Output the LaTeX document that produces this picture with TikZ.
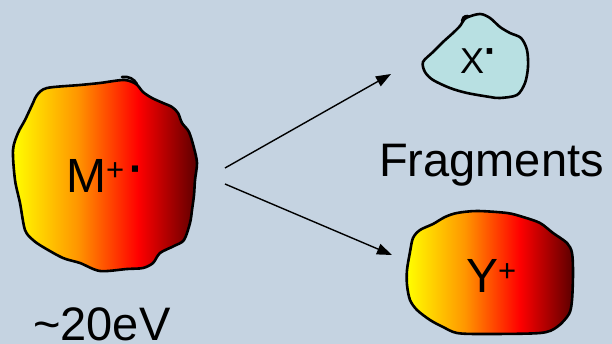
\documentclass[tikz,border=0pt]{standalone}
\usepackage{fontspec}
\setmainfont{Liberation Sans}
\usetikzlibrary{arrows.meta}

\definecolor{slide}{RGB}{197,211,225}
\definecolor{radical}{RGB}{184,224,226}
\definecolor{fireorange}{RGB}{255,150,0}
\definecolor{firedark}{RGB}{92,0,0}

% yellow -> orange -> red -> dark red, left to right across the path's box (25bp..75bp)
\pgfdeclarehorizontalshading{fire}{100bp}{%
  color(0bp)=(yellow); color(25bp)=(yellow); color(42.5bp)=(fireorange);
  color(59bp)=(red); color(75bp)=(firedark); color(100bp)=(firedark)}

\tikzset{
  outline/.style={draw=black, line width=2.6pt, line join=round, line cap=round},
  ion/.style={outline, shade, shading=fire},
  neutral/.style={outline, fill=radical},
  react/.style={line width=1.4pt, -{Triangle[length=15pt,width=11pt]}},
  lbl/.style={inner sep=0pt, anchor=base west, text=black},
}
% radical dot, set large so that it reads as a bold square
\newcommand{\raddot}[2]{\raisebox{#2}{\fontsize{#1}{#1}\selectfont\bfseries ·}}

\begin{document}
\begin{tikzpicture}[x=1pt, y=-1pt]
  \useasboundingbox (0,0) rectangle (612,344);
  \fill[slide] (0,0) rectangle (612,344);

  % parent radical cation
  \path[ion] plot[smooth cycle, tension=0.5] coordinates {
    (124,80) (136,84) (143,92) (152,98) (163,103) (172,107) (178,113)
    (182,123) (189,132) (194,148) (197,163) (195,180) (194,195) (192,210)
    (190,223) (184,240) (174,246) (160,253) (153,263) (143,268) (127,269)
    (100,271) (80,263) (63,258) (43,247) (33,240) (25,230) (20,203)
    (15,180) (13,150) (18,133) (25,120) (33,103) (37,95) (47,88) (80,85)
    (100,83)};
  \draw[outline] (122,77) .. controls (129,76) and (134,79) .. (137,84);

  % neutral radical fragment
  \path[neutral] plot[smooth cycle, tension=0.5] coordinates {
    (466,18) (480,14) (490,18) (500,27) (510,33) (521,38) (527,50)
    (528,67) (525,83) (517,95) (500,98) (490,97) (467,93) (450,88)
    (433,80) (425,72) (423,62) (433,52) (443,42) (453,33) (460,26)};
  \draw[outline] (462,21) .. controls (462,18) and (464,16) .. (468,16);

  % charged fragment
  \path[ion] plot[smooth cycle, tension=0.5] coordinates {
    (457,213) (477,211) (507,213) (523,217) (540,223) (553,233) (567,243)
    (572,253) (573,273) (572,300) (569,314) (557,327) (540,333) (483,334)
    (457,333) (443,327) (430,320) (417,310) (410,300) (407,285) (407,270)
    (410,252) (413,238) (420,230) (433,224) (445,217)};

  % labels
  \node[lbl, font=\fontsize{48}{48}\selectfont] (mion) at (66,193)
    {M\raisebox{12.5pt}{\fontsize{31}{31}\selectfont +}\kern5pt\raddot{43}{9pt}};
  \node[lbl, font=\fontsize{36}{36}\selectfont] (xrad) at (460,74)
    {X\kern0.5pt\raddot{39}{9pt}};
  \node[lbl, font=\fontsize{48}{48}\selectfont] (yion) at (466,292)
    {Y\raisebox{10.5pt}{\fontsize{31}{31}\selectfont +}};
  \node[lbl, font=\fontsize{47}{47}\selectfont] (frag) at (379,176.7) {Fragments};
  \node[lbl, font=\fontsize{47}{47}\selectfont] (energy) at (33,340) {\char"007E 20eV};

  % fragmentation arrows
  \coordinate (upStart) at (225,168);
  \coordinate (upEnd) at (391,74);
  \coordinate (downStart) at (225,184);
  \coordinate (downEnd) at (392,255);
  \draw[react] (upStart) -- (upEnd);
  \draw[react] (downStart) -- (downEnd);
\end{tikzpicture}
\end{document}
